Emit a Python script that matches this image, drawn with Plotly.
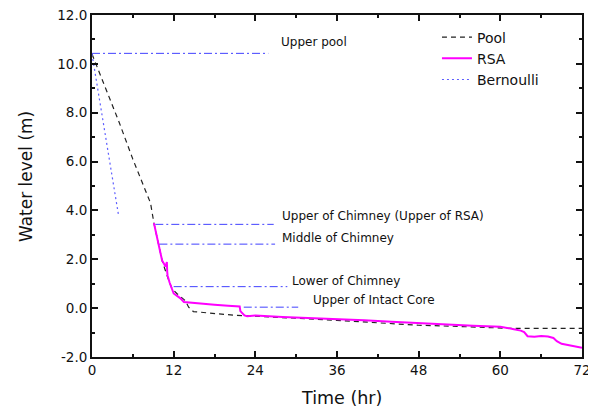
import plotly.graph_objects as go

# ---------------- data ----------------
pool_t = [0, 2, 4, 6, 8.6, 9.1, 9.8, 10.3, 11.0, 11.75, 12.5, 13.2, 13.7, 14.2, 14.9, 18.4, 21.3, 24, 30, 36, 42, 48, 54, 60, 61.5, 72]
pool_h = [10.4, 9.0, 7.6, 6.1, 4.3, 3.48, 2.64, 1.95, 1.35, 0.8, 0.59, 0.42, 0.31, 0.04, -0.14, -0.23, -0.3, -0.33, -0.4, -0.5, -0.6, -0.7, -0.75, -0.8, -0.83, -0.83]

rsa_t = [9.1, 9.4, 9.8, 10.3, 10.8, 11.0, 11.05, 11.1, 11.4, 11.75, 12.0, 12.5, 13.0, 13.5, 14.5, 16.0, 18.0, 20.0, 21.7,
         21.8, 22.4, 22.8, 24, 28, 32, 36, 40, 44, 48, 52, 56, 60, 61, 62, 63, 63.5, 64, 65, 66, 67, 67.8, 68.3, 69, 70, 72]
rsa_h = [3.48, 3.1, 2.64, 1.95, 1.7, 1.89, 1.5, 1.34, 1.05, 0.79, 0.6, 0.5, 0.4, 0.25, 0.22, 0.18, 0.14, 0.1, 0.07,
         -0.12, -0.3, -0.33, -0.3, -0.36, -0.4, -0.45, -0.5, -0.56, -0.62, -0.68, -0.72, -0.76, -0.8, -0.86, -0.92, -0.98, -1.15, -1.17, -1.14, -1.16, -1.22, -1.35, -1.46, -1.52, -1.62]

bern_t = [0, 0.5, 1.0, 1.5, 2.0, 2.5, 3.0, 3.5, 3.9]
bern_h = [10.4, 9.55, 8.7, 7.85, 7.0, 6.2, 5.4, 4.6, 3.8]

ref_labels = ["Upper pool", "Upper of Chimney (Upper of RSA)", "Middle of Chimney", "Lower of Chimney", "Upper of Intact Core"]
ref_levels = [10.43, 3.43, 2.62, 0.88, 0.04]
ref_start = [0.0, 9.3, 9.9, 12.0, 22.3]
ref_end = [25.9, 26.7, 26.9, 28.7, 30.3]
label_t = [27.5, 27.66, 27.66, 29.05, 32.2]
label_h = [10.9, 3.76, 2.87, 1.1, 0.34]

x_ticks = [0, 12, 24, 36, 48, 60, 72]
y_ticks = [-2, 0, 2, 4, 6, 8, 10, 12]
y_ticktext = ["-2.0", "0.0", "2.0", "4.0", "6.0", "8.0", "10.0", "12.0"]

FONT = "DejaVu Sans"
BLUE = "#4040ff"

fig = go.Figure()

for lvl, s, e in zip(ref_levels, ref_start, ref_end):
    fig.add_trace(go.Scatter(x=[s, e], y=[lvl, lvl], mode="lines", showlegend=False,
                             line=dict(color=BLUE, width=1, dash="8px,3px,2px,3px"), hoverinfo="skip"))

fig.add_trace(go.Scatter(x=pool_t, y=pool_h, mode="lines", name="Pool",
                         line=dict(color="#222222", width=1.2, dash="5px,4px")))
fig.add_trace(go.Scatter(x=rsa_t, y=rsa_h, mode="lines", name="RSA",
                         line=dict(color="#ff00ff", width=2)))
fig.add_trace(go.Scatter(x=bern_t, y=bern_h, mode="lines", name="Bernoulli",
                         line=dict(color="#5e5eff", width=1.2, dash="2px,3px")))

for txt, t, h in zip(ref_labels, label_t, label_h):
    fig.add_annotation(x=t, y=h, text=txt, showarrow=False, xanchor="left", yanchor="middle",
                       font=dict(family=FONT, size=12, color="#111111"))

fig.add_annotation(x=0, y=0.527, xref="paper", yref="paper", xshift=-66.7, text="Water level (m)",
                   textangle=-90, showarrow=False, xanchor="center", yanchor="middle",
                   font=dict(family=FONT, size=17, color="#111111"))
fig.add_annotation(x=0.5, y=0, xref="paper", yref="paper", xshift=4.5, yshift=-41, text="Time (hr)",
                   showarrow=False, xanchor="center", yanchor="middle",
                   font=dict(family=FONT, size=17.5, color="#111111"))

axis_common = dict(showline=True, linewidth=2, linecolor="#111111", mirror="allticks",
                   ticks="inside", ticklen=6, tickwidth=1.5, tickcolor="#111111",
                   showgrid=False, zeroline=False, automargin=False, ticklabeloverflow="allow",
                   tickfont=dict(family=FONT, size=13.5, color="#111111"))

fig.update_xaxes(range=[0, 72], tickvals=x_ticks, ticktext=[str(v) for v in x_ticks],
                 minor=dict(ticks="inside", ticklen=3, tickwidth=1.5, tickcolor="#111111", dtick=6, tick0=0),
                 **axis_common)
fig.update_yaxes(range=[-2, 12], tickvals=y_ticks, ticktext=y_ticktext,
                 minor=dict(ticks="inside", ticklen=3, tickwidth=1.5, tickcolor="#111111", dtick=1, tick0=0),
                 **axis_common)

# the page body has an 8px default margin, so the figure is sized to fit the window
fig.update_layout(
    width=588, height=402,
    margin=dict(l=84, r=14, t=7, b=53),
    plot_bgcolor="white", paper_bgcolor="white",
    legend=dict(x=0.704, y=0.981, xanchor="left", yanchor="top", bgcolor="rgba(0,0,0,0)",
                font=dict(family=FONT, size=14, color="#111111"), tracegroupgap=0,
                itemwidth=30),
    font=dict(family=FONT),
)

fig.write_html("out.html")
